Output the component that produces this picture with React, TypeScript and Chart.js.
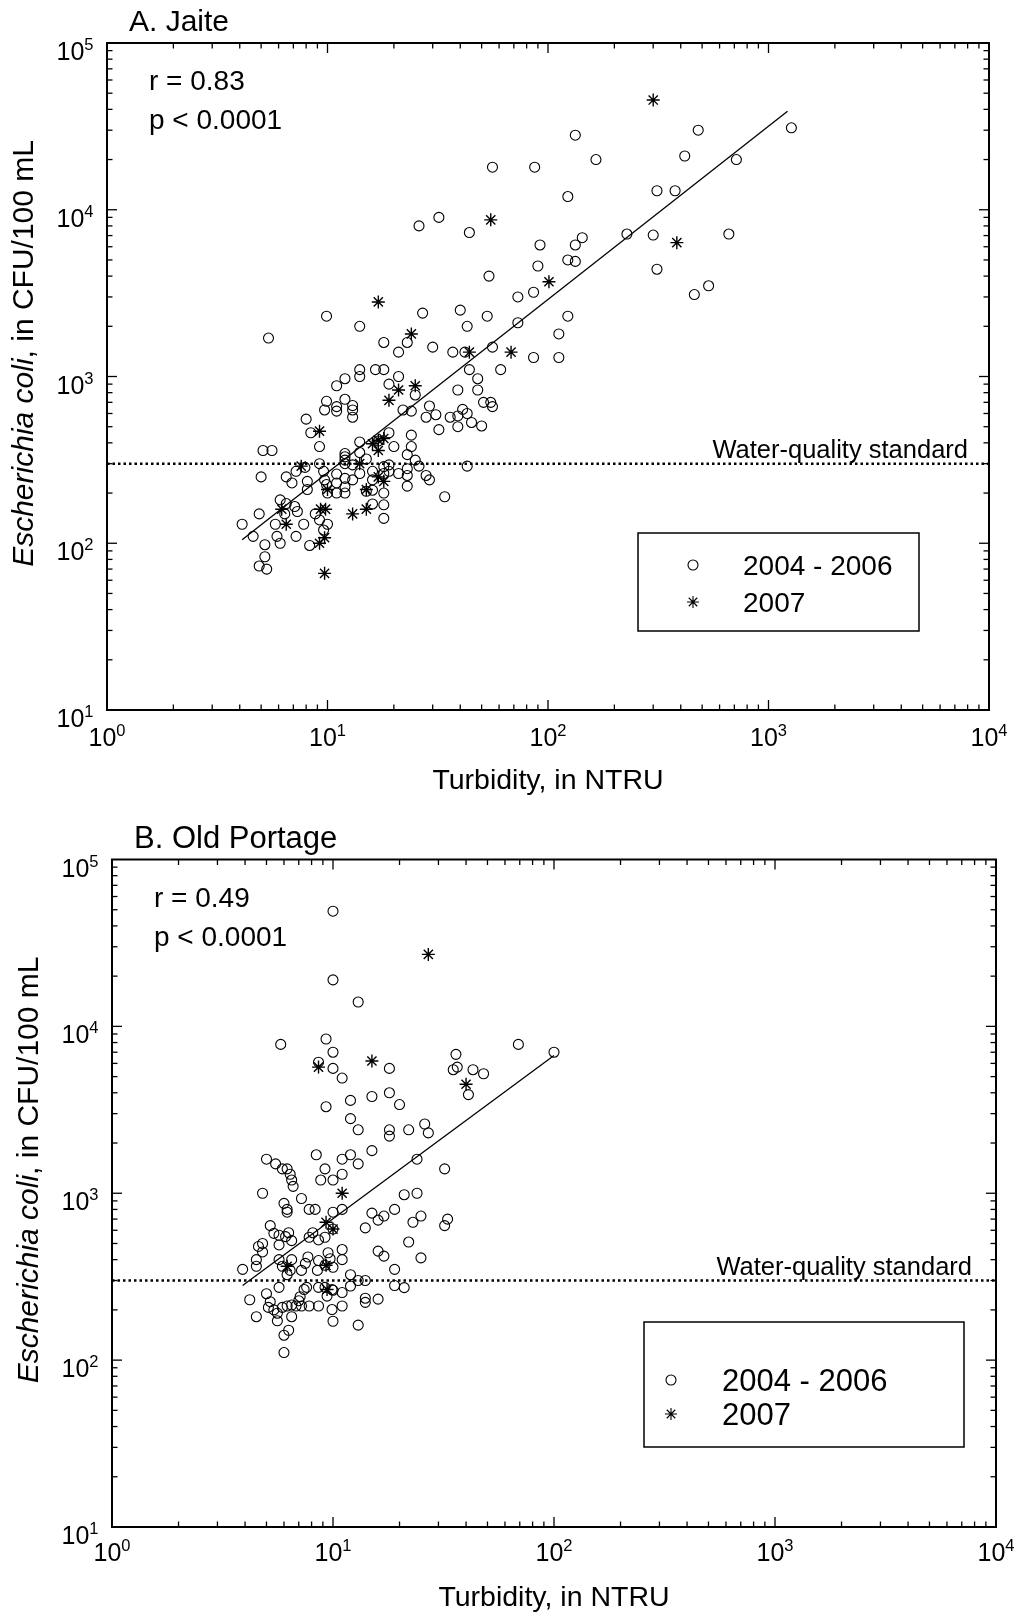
import React, { useEffect, useRef } from "react";
import { Chart, registerables } from "chart.js";

Chart.register(...registerables);

const FONT = '"Liberation Sans", Arial, Helvetica, sans-serif';

// ---------- Tick labels (powers of ten) ----------
const xTickExponents = [0, 1, 2, 3, 4];
const yTickExponents = [1, 2, 3, 4, 5];

// ---------- Panel A: Jaite ----------
const jaiteCircles: [number, number][] = [
  [1270, 31000], [480, 30000], [133, 28000], [417, 21000], [715, 20000], [165, 20000],
  [56, 18000], [87, 18000], [123, 12000], [312, 13000], [377, 13000], [32, 9000],
  [26, 8000], [44, 7300], [228, 7150], [300, 7050], [661, 7150], [143, 6800],
  [133, 6150], [92, 6150], [123, 5000], [133, 4900], [90, 4600], [54, 4000],
  [312, 4400], [535, 3500], [461, 3100], [86, 3200], [73, 3000], [27, 2400],
  [40, 2500], [53, 2300], [43, 2000], [73, 2100], [123, 2300], [112, 1800],
  [23, 1600], [30, 1500], [37, 1400], [42, 1400], [56, 1500], [86, 1300],
  [112, 1300], [44, 1100], [61, 1100], [48, 970], [39, 830], [48, 830],
  [25, 775], [29, 665], [51, 700], [55, 700], [56, 660], [41, 635],
  [39, 580], [43, 600], [36, 570], [31, 590], [28, 570], [45, 530],
  [50, 505], [39, 500], [32, 480], [24, 620], [24, 445], [24, 380],
  [23, 340], [25, 315], [43, 290], [26, 290], [23, 280], [23, 255],
  [28, 255], [29, 240], [23, 220], [34, 190],
  [9.9, 2300], [5.4, 1700], [14, 2000], [18, 1600], [21, 1400], [22, 630],
  [18, 1100], [16.5, 1100], [21, 1000], [14, 1100], [14, 1000], [12, 970],
  [11, 880], [19, 900], [9.9, 710], [11, 660], [11, 620], [12, 730],
  [13, 670], [13, 630], [13, 570], [9.7, 630], [8, 555], [8.4, 460],
  [9.2, 380], [14, 405], [19, 460], [20, 380], [17, 410], [15, 320],
  [14, 350], [12, 345], [12, 330], [12, 315], [12, 300], [13, 295],
  [9.2, 300], [7.9, 285], [7.2, 270], [6.5, 250], [6.9, 230], [5, 250],
  [5.1, 360], [5.6, 360], [8.1, 235], [8.1, 210], [9.6, 270], [9.7, 240],
  [9.9, 225], [10, 200], [11, 260], [11, 230], [11, 200], [12, 245],
  [12, 218], [12, 200], [13, 240], [14, 262], [15, 205], [16, 270],
  [16, 240], [16, 208], [18, 288], [18, 262], [18, 200], [18, 170],
  [18, 141], [19, 295], [19, 270], [21, 262], [6.1, 182], [6.5, 173],
  [7.1, 166], [7.3, 155], [6.4, 150], [4.9, 150], [5.8, 130], [5.9, 110],
  [6.1, 100], [5.2, 98], [5.2, 83], [4.9, 73], [5.3, 70], [4.6, 110],
  [4.1, 130], [7.8, 130], [7.2, 110], [8.3, 97], [8.8, 150], [9.2, 138],
  [10, 130], [9.6, 120], [16, 172],
];
const jaiteStars: [number, number][] = [
  [300, 45500], [55, 8700], [384, 6350], [101, 3700], [24, 1800], [44, 1400],
  [68, 1400], [25, 880], [17, 2800], [21, 830], [19, 720], [9.2, 470],
  [16, 395], [17, 415], [18, 425], [17, 360], [14, 300], [7.6, 290],
  [10, 210], [17, 250], [18, 235], [15, 210], [6.2, 160], [6.5, 130],
  [9.3, 160], [9.8, 160], [9.2, 100], [9.7, 108], [9.7, 66], [13, 150],
  [15, 160],
];
const jaiteFit: [number, number][] = [[4.1, 105], [1220, 39000]];

// ---------- Panel B: Old Portage ----------
const oldPortageCircles: [number, number][] = [
  [10, 49000], [10, 19000], [13, 14000], [5.8, 7800], [9.3, 8400], [10, 7000],
  [36, 6800], [69, 7800], [100, 7000], [8.6, 6100], [10, 5600], [11, 4900],
  [18, 5600], [35, 5500], [36.5, 5700], [43, 5500], [48, 5200], [41, 3900],
  [12, 3600], [9.3, 3300], [15, 3800], [18, 4000], [20, 3400], [12, 2800],
  [13, 2400], [18, 2400], [18, 2200], [22, 2400], [26, 2600], [27, 2300],
  [15, 1800], [24, 1600], [32, 1400], [8.4, 1700], [11, 1600], [12, 1700],
  [13, 1500], [9.2, 1400], [8.8, 1200], [10, 1200], [11, 1300], [11, 800],
  [10, 770], [5, 1600], [5.5, 1500], [5.9, 1400], [6.2, 1400], [6.4, 1300],
  [6.5, 1200], [6.6, 1100], [4.8, 1000], [7.2, 930], [6, 870], [6.2, 800],
  [6.2, 770], [7.8, 800], [8.3, 800], [21, 980], [24, 1000], [32, 640],
  [33, 700], [25, 730], [23, 670], [19, 800], [15, 760], [16, 690],
  [17, 730], [14, 620], [10, 610], [5.2, 640], [5.4, 575], [5.7, 560],
  [6.1, 550], [6.5, 520], [7.8, 545], [8.1, 580], [8.6, 525], [9.2, 545],
  [4.8, 500], [4.6, 480], [4.8, 445], [4.5, 400], [4.5, 365], [3.9, 350],
  [5.7, 490], [6.3, 580], [9.5, 440], [11, 460], [11, 400], [5.7, 400],
  [5.9, 365], [6.5, 400], [6.4, 345], [6.2, 325], [7.2, 345], [7.5, 380],
  [7.7, 415], [8.6, 395], [9.2, 370], [9.7, 405], [10, 360], [8.5, 345],
  [12, 325], [13, 300], [14, 300], [19, 350], [12, 278], [14, 235],
  [14, 222], [16, 232], [19, 280], [21, 272], [5.7, 273], [5, 250],
  [4.2, 230], [5.2, 224], [5.1, 207], [5.4, 200], [5.6, 191], [4.5, 182],
  [5.6, 172], [6.5, 182], [6, 141], [6.3, 151], [6, 111], [7.1, 240],
  [7, 227], [6.8, 211], [6.2, 211], [5.9, 207], [6.5, 214], [7.6, 273],
  [7.4, 265], [7.2, 211], [7.8, 211], [8.6, 211], [8.6, 273], [9.2, 273],
  [9.9, 265], [10, 262], [9.4, 242], [11, 254], [11, 211], [9.9, 201],
  [10, 171], [13, 162], [16, 450], [17, 420], [25, 410], [22, 510],
];
const oldPortageStars: [number, number][] = [
  [27, 27000], [15, 6200], [8.6, 5700], [40, 4500], [11, 1000], [9.3, 670],
  [10, 610], [6.2, 365], [9.3, 370], [9.4, 265],
];
const oldPortageFit: [number, number][] = [[3.9, 280], [100, 6700]];

const standardValue = 300;

type PanelCfg = {
  id: string;
  title: string;
  titleFont: number;
  r: string;
  circles: [number, number][];
  stars: [number, number][];
  fit: [number, number][];
  height: number;
  padding: { left: number; right: number; top: number; bottom: number };
  xLabelOffset: number;
  standardRight: number;
  legend: {
    left: number; top: number; right: number; bottom: number;
    markerX: number; textX: number; row1: number; row2: number; font: number;
  };
};

const panels: PanelCfg[] = [
  {
    id: "A",
    title: "A. Jaite",
    titleFont: 30,
    r: "r = 0.83",
    circles: jaiteCircles,
    stars: jaiteStars,
    fit: jaiteFit,
    height: 800,
    padding: { left: 107, top: 43, right: 30, bottom: 90 },
    xLabelOffset: 36,
    standardRight: 21,
    legend: { left: 638, top: 533, right: 919, bottom: 631, markerX: 693, textX: 743, row1: 565, row2: 602, font: 28 },
  },
  {
    id: "B",
    title: "B. Old Portage",
    titleFont: 31,
    r: "r = 0.49",
    circles: oldPortageCircles,
    stars: oldPortageStars,
    fit: oldPortageFit,
    height: 815,
    padding: { left: 112, top: 59.5, right: 23, bottom: 88 },
    xLabelOffset: 34,
    standardRight: 24,
    legend: { left: 644, top: 522, right: 964, bottom: 647, markerX: 671, textX: 722, row1: 580, row2: 614, font: 31 },
  },
];

const toPts = (arr: [number, number][]) => arr.map(([x, y]) => ({ x, y }));

function drawPow(ctx: CanvasRenderingContext2D, exp: number, x: number, y: number, align: "center" | "right") {
  ctx.font = `25px ${FONT}`;
  const wb = ctx.measureText("10").width;
  ctx.font = `16.5px ${FONT}`;
  const we = ctx.measureText(String(exp)).width;
  const total = wb + we;
  const x0 = align === "center" ? x - total / 2 : x - total;
  ctx.textAlign = "left";
  ctx.textBaseline = "alphabetic";
  ctx.font = `25px ${FONT}`;
  ctx.fillText("10", x0, y);
  ctx.font = `16.5px ${FONT}`;
  ctx.fillText(String(exp), x0 + wb, y - 10);
}

function drawStar(ctx: CanvasRenderingContext2D, x: number, y: number, r: number) {
  ctx.beginPath();
  for (let i = 0; i < 4; i++) {
    const a = (i * Math.PI) / 4;
    ctx.moveTo(x - r * Math.cos(a), y - r * Math.sin(a));
    ctx.lineTo(x + r * Math.cos(a), y + r * Math.sin(a));
  }
  ctx.stroke();
}

function makeDecor(cfg: PanelCfg) {
  return {
    id: "decor" + cfg.id,
    afterDraw(chart: any) {
      const ctx: CanvasRenderingContext2D = chart.ctx;
      const { left, right, top, bottom } = chart.chartArea;
      const xs = chart.scales.x;
      const ys = chart.scales.y;
      ctx.save();
      ctx.strokeStyle = "#000";
      ctx.fillStyle = "#000";
      const seg = (x1: number, y1: number, x2: number, y2: number) => {
        ctx.beginPath();
        ctx.moveTo(x1, y1);
        ctx.lineTo(x2, y2);
        ctx.stroke();
      };
      // ticks
      ctx.lineWidth = 1.3;
      for (let e = 0; e < 4; e++) {
        for (let m = 1; m <= 9; m++) {
          const px = xs.getPixelForValue(m * Math.pow(10, e));
          const len = m === 1 ? 10 : 5.5;
          seg(px, bottom, px, bottom - len);
          seg(px, top, px, top + len);
        }
      }
      for (let e = 1; e < 5; e++) {
        for (let m = 1; m <= 9; m++) {
          const py = ys.getPixelForValue(m * Math.pow(10, e));
          const len = m === 1 ? 10 : 5.5;
          seg(left, py, left + len, py);
          seg(right, py, right - len, py);
        }
      }
      // frame
      ctx.lineWidth = 2;
      ctx.strokeRect(left, top, right - left, bottom - top);

      // tick labels
      xTickExponents.forEach((e) =>
        drawPow(ctx, e, xs.getPixelForValue(Math.pow(10, e)), bottom + cfg.xLabelOffset, "center")
      );
      yTickExponents.forEach((e) =>
        drawPow(ctx, e, left - 13.5, ys.getPixelForValue(Math.pow(10, e)) + 17, "right")
      );

      // axis titles
      ctx.font = `28.5px ${FONT}`;
      ctx.textAlign = "center";
      ctx.textBaseline = "alphabetic";
      ctx.fillText("Turbidity, in NTRU", (left + right) / 2, bottom + 79);

      const part1 = "Escherichia coli";
      const part2 = ", in CFU/100 mL";
      const yFont = 30;
      ctx.font = `italic ${yFont}px ${FONT}`;
      const w1 = ctx.measureText(part1).width;
      ctx.font = `${yFont}px ${FONT}`;
      const w2 = ctx.measureText(part2).width;
      const yTitleTopEnd = top + 97;
      ctx.save();
      ctx.translate(left - 74, yTitleTopEnd + w1 + w2);
      ctx.rotate(-Math.PI / 2);
      ctx.textAlign = "left";
      ctx.font = `italic ${yFont}px ${FONT}`;
      ctx.fillText(part1, 0, 0);
      ctx.font = `${yFont}px ${FONT}`;
      ctx.fillText(part2, w1, 0);
      ctx.restore();

      // panel title & stats
      ctx.textAlign = "left";
      ctx.font = `${cfg.titleFont}px ${FONT}`;
      ctx.fillText(cfg.title, left + 22, top - 12);
      ctx.font = `28px ${FONT}`;
      ctx.fillText(cfg.r, left + 42, top + 47);
      ctx.fillText("p < 0.0001", left + 42, top + 86);

      // water-quality standard label
      ctx.font = `25.5px ${FONT}`;
      ctx.textAlign = "right";
      ctx.fillText("Water-quality standard", right - cfg.standardRight, ys.getPixelForValue(standardValue) - 6);

      // legend
      const L = cfg.legend;
      ctx.lineWidth = 1.5;
      ctx.strokeRect(L.left, L.top, L.right - L.left, L.bottom - L.top);
      ctx.lineWidth = 1.1;
      ctx.beginPath();
      ctx.arc(L.markerX, L.row1, 5, 0, Math.PI * 2);
      ctx.stroke();
      drawStar(ctx, L.markerX, L.row2, 6);
      ctx.font = `${L.font}px ${FONT}`;
      ctx.textAlign = "left";
      ctx.fillText("2004 - 2006", L.textX, L.row1 + L.font * 0.36);
      ctx.fillText("2007", L.textX, L.row2 + L.font * 0.36);
      ctx.restore();
    },
  };
}

function Panel({ cfg, top }: { cfg: PanelCfg; top: number }) {
  const ref = useRef<HTMLCanvasElement | null>(null);
  useEffect(() => {
    if (!ref.current) return;
    const chart = new Chart(ref.current, {
      type: "scatter",
      data: {
        datasets: [
          {
            label: "2004 - 2006",
            data: toPts(cfg.circles),
            pointStyle: "circle",
            pointRadius: 5,
            pointBorderWidth: 1.1,
            borderColor: "#000",
            backgroundColor: "rgba(0,0,0,0)",
            pointBackgroundColor: "rgba(0,0,0,0)",
          } as any,
          {
            label: "2007",
            data: toPts(cfg.stars),
            pointStyle: "star",
            pointRadius: 6.5,
            pointBorderWidth: 1.4,
            borderColor: "#000",
            backgroundColor: "rgba(0,0,0,0)",
          } as any,
          {
            type: "line",
            label: "fit",
            data: toPts(cfg.fit),
            borderColor: "#000",
            borderWidth: 1.3,
            pointRadius: 0,
            fill: false,
          } as any,
          {
            type: "line",
            label: "Water-quality standard",
            data: [
              { x: 1, y: standardValue },
              { x: 10000, y: standardValue },
            ],
            borderColor: "#000",
            borderWidth: 2.5,
            borderDash: [2.5, 3],
            pointRadius: 0,
            fill: false,
          } as any,
        ],
      },
      options: {
        animation: false,
        responsive: false,
        devicePixelRatio: 1,
        events: [],
        layout: { padding: cfg.padding },
        plugins: { legend: { display: false }, tooltip: { enabled: false } },
        scales: {
          x: { type: "logarithmic", min: 1, max: 10000, display: false },
          y: { type: "logarithmic", min: 10, max: 100000, display: false },
        },
      },
      plugins: [makeDecor(cfg)],
    });
    return () => chart.destroy();
  }, [cfg]);
  return (
    <canvas
      ref={ref}
      width={1019}
      height={cfg.height}
      style={{ position: "absolute", left: 0, top, width: 1019, height: cfg.height, display: "block" }}
    />
  );
}

export default function App() {
  return (
    <div style={{ position: "absolute", left: 0, top: 0, width: 1019, height: 1615, background: "#fff" }}>
      <Panel cfg={panels[0]} top={0} />
      <Panel cfg={panels[1]} top={800} />
    </div>
  );
}
